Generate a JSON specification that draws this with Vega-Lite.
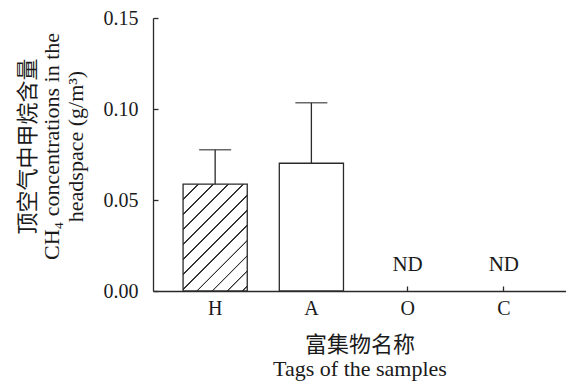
{
  "$schema": "https://vega.github.io/schema/vega-lite/v6.json",
  "autosize": "none",
  "width": 413,
  "height": 273,
  "padding": {"left": 153, "top": 18, "right": 0, "bottom": 92},
  "background": "white",
  "data": {
    "values": [
      {"tag": "H", "value": 0.0587, "upper": 0.0776, "note": ""},
      {"tag": "A", "value": 0.0702, "upper": 0.1034, "note": ""},
      {"tag": "O", "value": null, "upper": null, "note": "ND"},
      {"tag": "C", "value": null, "upper": null, "note": "ND"}
    ]
  },
  "encoding": {
    "x": {
      "field": "tag",
      "type": "nominal",
      "sort": ["H", "A", "O", "C"],
      "scale": {"paddingInner": 0.333, "paddingOuter": 0.3125},
      "axis": {
        "labelAngle": 0,
        "title": ["富集物名称", "Tags of the samples"],
        "tickSize": -5,
        "labelPadding": 12,
        "titlePadding": 16
      }
    }
  },
  "layer": [
    {
      "transform": [{"filter": "datum.tag === 'H'"}],
      "mark": {
        "type": "bar",
        "stroke": "#2a2a2a",
        "strokeWidth": 1.3,
        "fill": {
          "gradient": "linear",
          "x1": 0, "y1": 0, "x2": 0.707, "y2": 1.176,
          "stops": [
            {"offset": 0, "color": "white"},
            {"offset": 0.082, "color": "white"}, {"offset": 0.083, "color": "#333333"}, {"offset": 0.093, "color": "#333333"}, {"offset": 0.094, "color": "white"},
            {"offset": 0.170, "color": "white"}, {"offset": 0.171, "color": "#333333"}, {"offset": 0.181, "color": "#333333"}, {"offset": 0.182, "color": "white"},
            {"offset": 0.258, "color": "white"}, {"offset": 0.259, "color": "#333333"}, {"offset": 0.269, "color": "#333333"}, {"offset": 0.270, "color": "white"},
            {"offset": 0.347, "color": "white"}, {"offset": 0.348, "color": "#333333"}, {"offset": 0.358, "color": "#333333"}, {"offset": 0.359, "color": "white"},
            {"offset": 0.435, "color": "white"}, {"offset": 0.436, "color": "#333333"}, {"offset": 0.446, "color": "#333333"}, {"offset": 0.447, "color": "white"},
            {"offset": 0.523, "color": "white"}, {"offset": 0.524, "color": "#333333"}, {"offset": 0.534, "color": "#333333"}, {"offset": 0.535, "color": "white"},
            {"offset": 0.611, "color": "white"}, {"offset": 0.612, "color": "#333333"}, {"offset": 0.622, "color": "#333333"}, {"offset": 0.623, "color": "white"},
            {"offset": 0.700, "color": "white"}, {"offset": 0.701, "color": "#333333"}, {"offset": 0.711, "color": "#333333"}, {"offset": 0.712, "color": "white"},
            {"offset": 0.788, "color": "white"}, {"offset": 0.789, "color": "#333333"}, {"offset": 0.799, "color": "#333333"}, {"offset": 0.800, "color": "white"},
            {"offset": 0.876, "color": "white"}, {"offset": 0.877, "color": "#333333"}, {"offset": 0.887, "color": "#333333"}, {"offset": 0.888, "color": "white"},
            {"offset": 0.964, "color": "white"}, {"offset": 0.965, "color": "#333333"}, {"offset": 0.975, "color": "#333333"}, {"offset": 0.976, "color": "white"},
            {"offset": 1, "color": "white"}
          ]
        }
      },
      "encoding": {
        "y": {
          "field": "value",
          "type": "quantitative",
          "scale": {"domain": [0, 0.15], "nice": false, "zero": true},
          "title": ["顶空气中甲烷含量", "CH₄ concentrations in the", "headspace (g/m³)"],
          "axis": {
            "values": [0, 0.05, 0.1, 0.15],
            "format": ".2f",
            "grid": false,
            "tickSize": -5,
            "labelPadding": 20,
            "titlePadding": 16,
            "titleY": 128
          }
        }
      }
    },
    {
      "transform": [{"filter": "datum.tag === 'A'"}],
      "mark": {"type": "bar", "fill": "white", "stroke": "#2a2a2a", "strokeWidth": 1.3},
      "encoding": {
        "y": {"field": "value", "type": "quantitative", "title": ["顶空气中甲烷含量", "CH₄ concentrations in the", "headspace (g/m³)"]}
      }
    },
    {
      "transform": [{"filter": "datum.value != null"}],
      "mark": {"type": "rule", "color": "#2a2a2a", "strokeWidth": 1.3},
      "encoding": {
        "y": {"field": "value", "type": "quantitative", "title": ["顶空气中甲烷含量", "CH₄ concentrations in the", "headspace (g/m³)"]},
        "y2": {"field": "upper"}
      }
    },
    {
      "transform": [{"filter": "datum.value != null"}],
      "mark": {"type": "tick", "color": "#2a2a2a", "size": 32, "thickness": 1.5},
      "encoding": {
        "y": {"field": "upper", "type": "quantitative", "title": ["顶空气中甲烷含量", "CH₄ concentrations in the", "headspace (g/m³)"]}
      }
    },
    {
      "transform": [{"filter": "datum.note === 'ND'"}],
      "mark": {"type": "text", "font": "Liberation Serif", "fontSize": 21, "color": "#1a1a1a", "baseline": "middle", "dy": -26},
      "encoding": {
        "y": {"datum": 0, "type": "quantitative", "title": ["顶空气中甲烷含量", "CH₄ concentrations in the", "headspace (g/m³)"]},
        "text": {"field": "note"}
      }
    }
  ],
  "config": {
    "view": {"stroke": null},
    "axis": {
      "domainColor": "#2a2a2a",
      "domainWidth": 1.3,
      "tickColor": "#2a2a2a",
      "tickWidth": 1.3,
      "labelFont": "Liberation Serif",
      "labelFontSize": 20,
      "labelColor": "#1a1a1a",
      "titleFont": "Liberation Serif, Noto Sans CJK SC",
      "titleFontSize": 22,
      "titleFontWeight": "normal",
      "titleColor": "#1a1a1a",
      "titleLineHeight": 24
    }
  }
}
